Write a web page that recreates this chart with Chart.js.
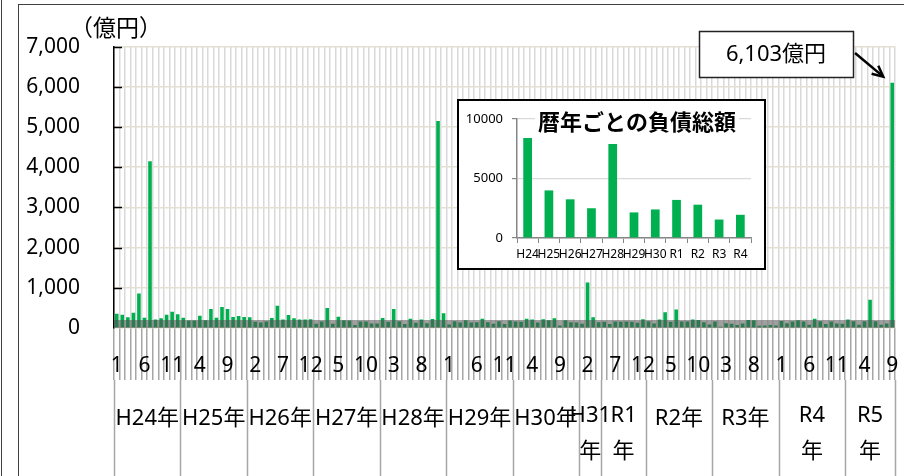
<!DOCTYPE html>
<html><head><meta charset="utf-8">
<script src="https://cdn.jsdelivr.net/npm/chart.js@4"></script>
<style>
html,body{margin:0;padding:0;background:#fff;width:904px;height:476px;overflow:hidden;}
#wrap{position:relative;width:904px;height:476px;}
#main{position:absolute;left:0;top:0;}
#frameL{position:absolute;left:1px;top:0;width:0;height:476px;border-left:1.5px solid #404040;}
#frame{position:absolute;left:18px;top:4px;width:900px;height:480px;border-left:1.5px solid #404040;border-top:1.5px solid #404040;}
#insetBox{position:absolute;left:457px;top:99px;width:305px;height:167px;border:2px solid #000;background:#fff;}
#inset{position:absolute;left:0;top:0;}
</style></head>
<body>
<div id="wrap">
<canvas id="main" width="904" height="476"></canvas>
<div id="frameL"></div>
<div id="frame"></div>
<div id="insetBox"><canvas id="inset" width="305" height="167"></canvas></div>
</div>
<script>
// ---- data ----
const yearLabels = ['H24年','H25年','H26年','H27年','H28年','H29年','H30年','H31\n年','R1\n年','R2年','R3年','R4\n年','R5\n年'];
const yearMonthCounts = [12,12,12,12,12,12,12,4,8,12,12,12,9];
const startMonth = 1;
const monthlyDebt = [
  354,330,265,378,860,258,4150,210,241,330,402,345,   // H24
  258,185,185,306,193,474,258,523,474,274,298,274,    // H25
  265,153,137,161,250,555,210,322,241,210,210,217,    // H26
  105,161,499,105,282,193,185,72,161,161,113,113,     // H27
  250,153,474,169,97,233,129,210,121,225,5150,369,    // H28
  89,169,137,193,137,145,233,145,105,169,97,185,      // H29
  161,153,233,210,137,217,193,241,64,193,145,137,     // H30
  105,1130,265,145,                                   // H31
  153,97,161,153,161,153,129,217,                     // R1
  169,113,210,394,153,458,161,161,210,201,145,89,     // R2
  161,32,121,105,72,113,201,193,56,64,72,64,          // R3
  177,121,161,193,161,80,233,169,97,161,113,105,      // R4
  210,169,80,169,700,169,80,113,6103                  // R5
];
const yTicks = [0,1000,2000,3000,4000,5000,6000,7000];
const unitLabel = '（億円）';
const calloutUnit = '億円';

const insetTitle = '暦年ごとの負債総額';
const insetYears = ['H24','H25','H26','H27','H28','H29','H30','R1','R2','R3','R4'];
const insetTotals = [8400,4000,3250,2500,7900,2150,2400,3200,2800,1550,1950];
const insetTicks = [0,5000,10000];

// month number for each category
const monthLabels = monthlyDebt.map((_, i) => String(((startMonth - 1 + i) % 12) + 1));

const FONT = '"Noto Sans", "Noto Sans CJK JP", sans-serif';
const JFONT = '"Noto Sans CJK JP", "Noto Sans", sans-serif';
const GREEN = '#00b050';

const decor = {
  id: 'decor',
  afterDatasetsDraw(chart) {
    const ctx = chart.ctx, ys = chart.scales.y, ca = chart.chartArea;
    const y0 = ys.getPixelForValue(0);
    ctx.save();
    ctx.fillStyle = 'rgba(80,80,80,0.55)';
    ctx.fillRect(ca.left, y0 - 8, ca.right - ca.left, 8);
    ctx.strokeStyle = '#000'; ctx.lineWidth = 1.5;
    yTicks.forEach(v => {
      if (v === 0) return;
      const y = Math.round(ys.getPixelForValue(v)) + 0.5;
      ctx.beginPath(); ctx.moveTo(ca.left, y); ctx.lineTo(ca.left + 8, y); ctx.stroke();
    });
    ctx.restore();
  },
  afterDraw(chart) {
    const ctx = chart.ctx, xs = chart.scales.x, ys = chart.scales.y;
    ctx.save();
    ctx.fillStyle = '#000';
    ctx.font = '23px ' + JFONT;
    ctx.textBaseline = 'middle'; ctx.textAlign = 'left';
    ctx.fillText(unitLabel, 70, 27);
    // year row
    const half = (xs.getPixelForValue(1) - xs.getPixelForValue(0)) / 2;
    const top = xs.bottom, bottom = chart.height;
    ctx.strokeStyle = '#a6a6a6'; ctx.lineWidth = 1.5;
    let start = 0;
    const sep = x => { ctx.beginPath(); ctx.moveTo(Math.round(x)+0.5, top); ctx.lineTo(Math.round(x)+0.5, bottom); ctx.stroke(); };
    sep(xs.getPixelForValue(0) - half);
    ctx.font = '22px ' + FONT;
    ctx.textAlign = 'center';
    yearLabels.forEach((lab, g) => {
      const end = start + yearMonthCounts[g];
      const l = xs.getPixelForValue(start) - half;
      const r = xs.getPixelForValue(end - 1) + half;
      sep(r);
      const cx = (l + r) / 2;
      const lines = lab.split('\n');
      if (lines.length === 1) {
        ctx.fillText(lines[0], cx, 419);
      } else {
        ctx.fillText(lines[0], cx, 416);
        ctx.fillText(lines[1], cx, 452);
      }
      start = end;
    });
    // callout
    const last = monthlyDebt.length - 1;
    const bx = xs.getPixelForValue(last), by = ys.getPixelForValue(monthlyDebt[last]);
    ctx.fillStyle = '#fff'; ctx.strokeStyle = '#222'; ctx.lineWidth = 1.5;
    ctx.fillRect(699, 31, 154, 46); ctx.strokeRect(699.5, 31.5, 154, 46);
    ctx.fillStyle = '#000'; ctx.font = '22px ' + FONT; ctx.textAlign = 'center';
    ctx.fillText(monthlyDebt[last].toLocaleString('en-US') + calloutUnit, 776, 55);
    const tx = bx - 9, ty = by - 6;
    const sx = 855, sy = 53;
    ctx.strokeStyle = '#000'; ctx.lineWidth = 2.5;
    ctx.beginPath(); ctx.moveTo(sx, sy); ctx.lineTo(tx, ty); ctx.stroke();
    const ang = Math.atan2(ty - sy, tx - sx);
    ctx.beginPath();
    ctx.moveTo(tx - 12 * Math.cos(ang - 0.45), ty - 12 * Math.sin(ang - 0.45));
    ctx.lineTo(tx, ty);
    ctx.lineTo(tx - 12 * Math.cos(ang + 0.45), ty - 12 * Math.sin(ang + 0.45));
    ctx.stroke();
    ctx.restore();
  }
};

new Chart(document.getElementById('main'), {
  type: 'bar',
  data: { labels: monthLabels, datasets: [{ data: monthlyDebt, backgroundColor: GREEN, barPercentage: 0.65, categoryPercentage: 1 }] },
  options: {
    responsive: false, animation: false, devicePixelRatio: 1,
    layout: { padding: { top: 37, right: 9, bottom: 96, left: 0 } },
    plugins: { legend: { display: false }, tooltip: { enabled: false } },
    scales: {
      x: {
        grid: { offset: true, color: '#d9d9d9', tickColor: '#a6a6a6', tickLength: 52, lineWidth: 1.5, tickWidth: 1.5 },
        border: { display: false },
        ticks: { autoSkip: false, maxRotation: 0, minRotation: 0, padding: -27, color: '#000',
                 font: { family: FONT, size: 21 },
                 callback: (v, i) => (i % 5 === 0 ? monthLabels[i] : '') },
        afterFit: s => { s.height = 52; }
      },
      y: {
        min: 0, max: 7000,
        afterBuildTicks: s => { s.ticks = yTicks.map(v => ({ value: v })); },
        ticks: { padding: 34, color: '#000', font: { family: FONT, size: 21 },
                 callback: v => v.toLocaleString('en-US') },
        grid: { color: '#e3dfd3', drawTicks: false, lineWidth: 1.5 },
        border: { display: true, color: '#000', width: 1.5 },
        afterFit: s => { s.width = 114; }
      }
    }
  },
  plugins: [decor]
});

const insetDecor = {
  id: 'insetDecor',
  afterDraw(chart) {
    const ctx = chart.ctx;
    ctx.save();
    ctx.font = 'bold 22px ' + JFONT;
    ctx.textAlign = 'center'; ctx.textBaseline = 'middle';
    const w = ctx.measureText(insetTitle).width;
    ctx.fillStyle = '#fff';
    ctx.fillRect(178 - w / 2 - 3, 7, w + 6, 28);
    ctx.fillStyle = '#000';
    ctx.fillText(insetTitle, 178, 21);
    ctx.restore();
  }
};

new Chart(document.getElementById('inset'), {
  type: 'bar',
  data: { labels: insetYears, datasets: [{ data: insetTotals, backgroundColor: GREEN, barPercentage: 0.41, categoryPercentage: 1 }] },
  options: {
    responsive: false, animation: false, devicePixelRatio: 1,
    layout: { padding: { top: 18, right: 13, bottom: 0, left: 0 } },
    plugins: { legend: { display: false }, tooltip: { enabled: false } },
    scales: {
      x: {
        grid: { offset: true, drawOnChartArea: false, tickLength: 5, tickColor: '#868686' },
        border: { display: true, color: '#868686', width: 1.5 },
        ticks: { autoSkip: false, maxRotation: 0, minRotation: 0, padding: 4, color: '#000', font: { family: FONT, size: 12 } },
        afterFit: s => { s.height = 30; }
      },
      y: {
        min: 0, max: 10000,
        afterBuildTicks: s => { s.ticks = insetTicks.map(v => ({ value: v })); },
        grid: { color: '#d9d9d9', tickLength: 5, tickColor: '#868686', lineWidth: 1.2 },
        border: { display: true, color: '#868686', width: 1.5 },
        ticks: { padding: 9, color: '#000', font: { family: FONT, size: 13 }, callback: v => String(v) },
        afterFit: s => { s.width = 58; }
      }
    }
  },
  plugins: [insetDecor]
});
</script>
</body></html>
